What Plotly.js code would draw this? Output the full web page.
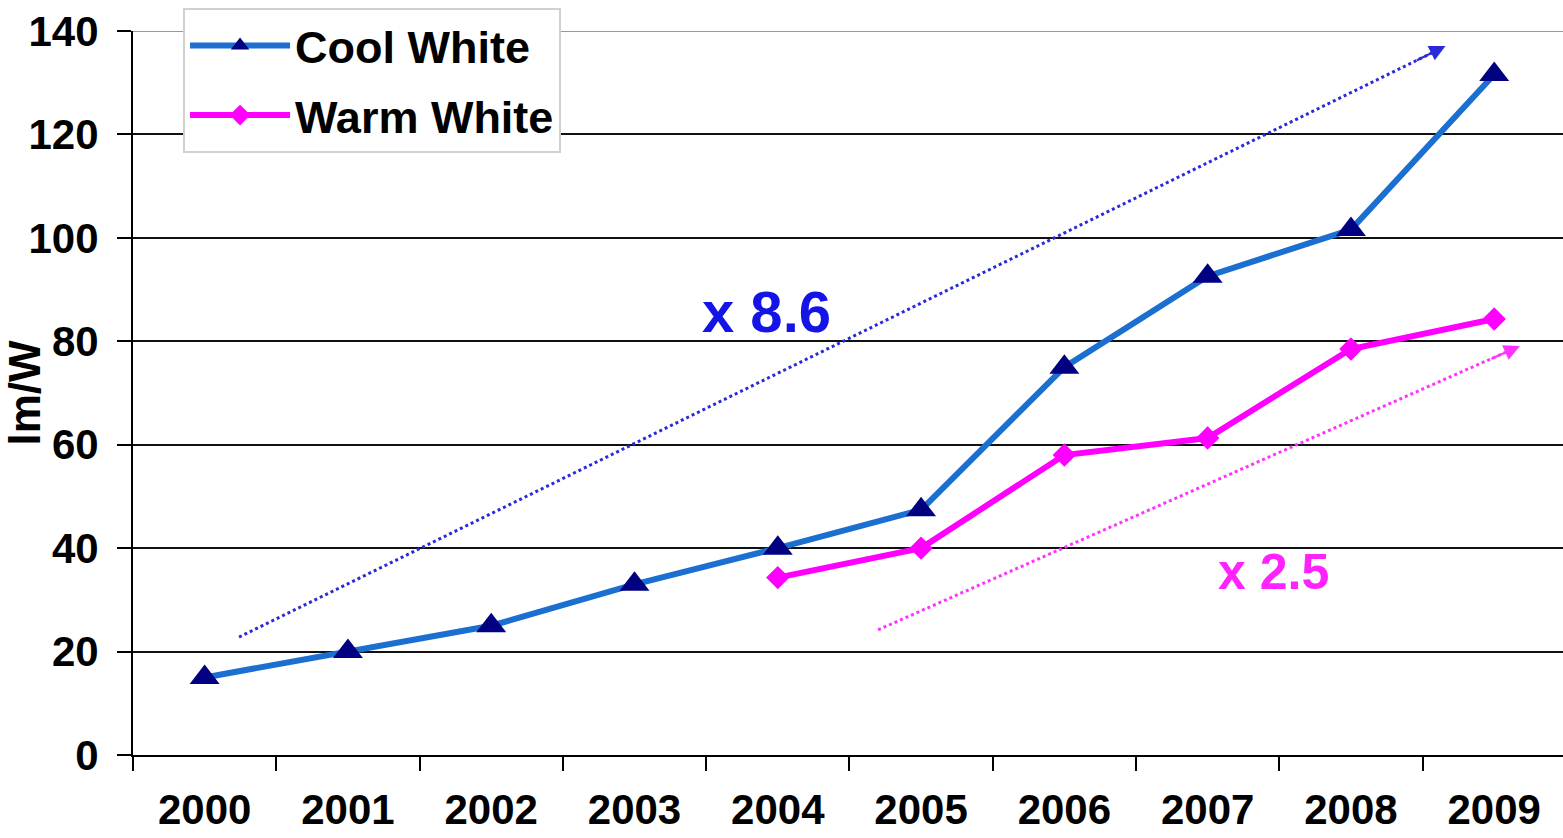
<!DOCTYPE html>
<html>
<head>
<meta charset="utf-8">
<script src="https://cdn.plot.ly/plotly-3.0.1.min.js"></script>
<style>html,body{margin:0;padding:0;background:#fff;}#chart{width:1563px;height:838px;}</style>
</head>
<body>
<div id="chart"></div>
<script>
const years = ['2000','2001','2002','2003','2004','2005','2006','2007','2008','2009'];
const coolWhite = [15, 20, 25, 33, 40, 47.4, 75, 92.6, 101.6, 131.6];
const warmYears = ['2004','2005','2006','2007','2008','2009'];
const warmWhite = [34.3, 40, 58, 61.3, 78.5, 84.3];
const yTicks = [0, 20, 40, 60, 80, 100, 120, 140];

const FONT = 'Liberation Sans, Arial, sans-serif';

const traces = [
  {
    x: years, y: coolWhite, name: 'Cool White', type: 'scatter', mode: 'lines+markers',
    legendgroup: 'a',
    line: {color: '#1a6fd0', width: 6},
    marker: {symbol: 'triangle-up', size: 26, color: '#000080'}
  },
  {
    x: warmYears, y: warmWhite, name: 'Warm White', type: 'scatter', mode: 'lines+markers',
    legendgroup: 'b',
    line: {color: '#ff00ff', width: 6},
    marker: {symbol: 'diamond', size: 18, color: '#ff00ff'}
  }
];

const layout = {
  width: 1563, height: 838,
  margin: {l: 133, r: 0, t: 31, b: 83},
  paper_bgcolor: '#fff', plot_bgcolor: '#fff',
  font: {family: FONT, color: '#000'},
  showlegend: true,
  legend: {
    x: 0.035, y: 1.032, xanchor: 'left', yanchor: 'top',
    bgcolor: '#fff', bordercolor: '#d0d0d0', borderwidth: 2,
    font: {family: FONT, size: 45, color: '#000', weight: 'bold'},
    itemwidth: 100, tracegroupgap: 8
  },
  xaxis: {
    type: 'category', categoryorder: 'array', categoryarray: years,
    range: [-0.5, 9.48],
    tickson: 'boundaries', ticks: 'outside', ticklen: 14, tickwidth: 2, tickcolor: '#000',
    ticklabelstandoff: 17,
    showgrid: false, showline: true, linecolor: '#000', linewidth: 2,
    tickfont: {family: FONT, size: 42, color: '#000', weight: 'bold'},
    fixedrange: true
  },
  yaxis: {
    range: [0, 140], tickvals: yTicks,
    ticks: 'outside', ticklen: 14, tickwidth: 2, tickcolor: '#000',
    ticklabelstandoff: 10,
    showgrid: true, gridcolor: '#111', gridwidth: 2,
    showline: true, linecolor: '#000', linewidth: 2,
    zeroline: true, zerolinecolor: '#000', zerolinewidth: 2,
    tickfont: {family: FONT, size: 42, color: '#000', weight: 'bold'},
    title: {text: 'lm/W', font: {family: FONT, size: 44, color: '#000', weight: 'bold'}, standoff: 2},
    fixedrange: true
  },
  shapes: [
    {type: 'line', xref: 'paper', yref: 'y', x0: 0, x1: 1, y0: 140, y1: 140,
     line: {color: '#9a9a9a', width: 2}, layer: 'above'},
    {type: 'line', xref: 'x', yref: 'y', x0: 0.24, y0: 22.8, x1: 8.62, y1: 136.5,
     line: {color: '#2a2ad8', width: 3, dash: 'dot'}},
    {type: 'line', xref: 'x', yref: 'y', x0: 4.70, y0: 24.2, x1: 9.14, y1: 78.6,
     line: {color: '#ff33ff', width: 3, dash: 'dot'}}
  ],
  annotations: [
    {x: 8.66, y: 137.1, ax: 8.45, ay: 134.2, xref: 'x', yref: 'y', axref: 'x', ayref: 'y',
     text: '', showarrow: true, arrowhead: 2, arrowsize: 1.6, arrowwidth: 2, arrowcolor: '#2a2ad8', standoff: 0},
    {x: 9.18, y: 79.1, ax: 8.97, ay: 76.5, xref: 'x', yref: 'y', axref: 'x', ayref: 'y',
     text: '', showarrow: true, arrowhead: 2, arrowsize: 1.6, arrowwidth: 2, arrowcolor: '#ff33ff', standoff: 0},
    {x: 3.92, y: 85.7, xref: 'x', yref: 'y', text: 'x 8.6', showarrow: false,
     font: {family: FONT, size: 58, color: '#1414e6', weight: 'bold'}},
    {x: 7.46, y: 35.4, xref: 'x', yref: 'y', text: 'x 2.5', showarrow: false,
     font: {family: FONT, size: 50, color: '#ff22ff', weight: 'bold'}}
  ]
};

Plotly.newPlot('chart', traces, layout, {displayModeBar: false, staticPlot: true});
</script>
</body>
</html>
